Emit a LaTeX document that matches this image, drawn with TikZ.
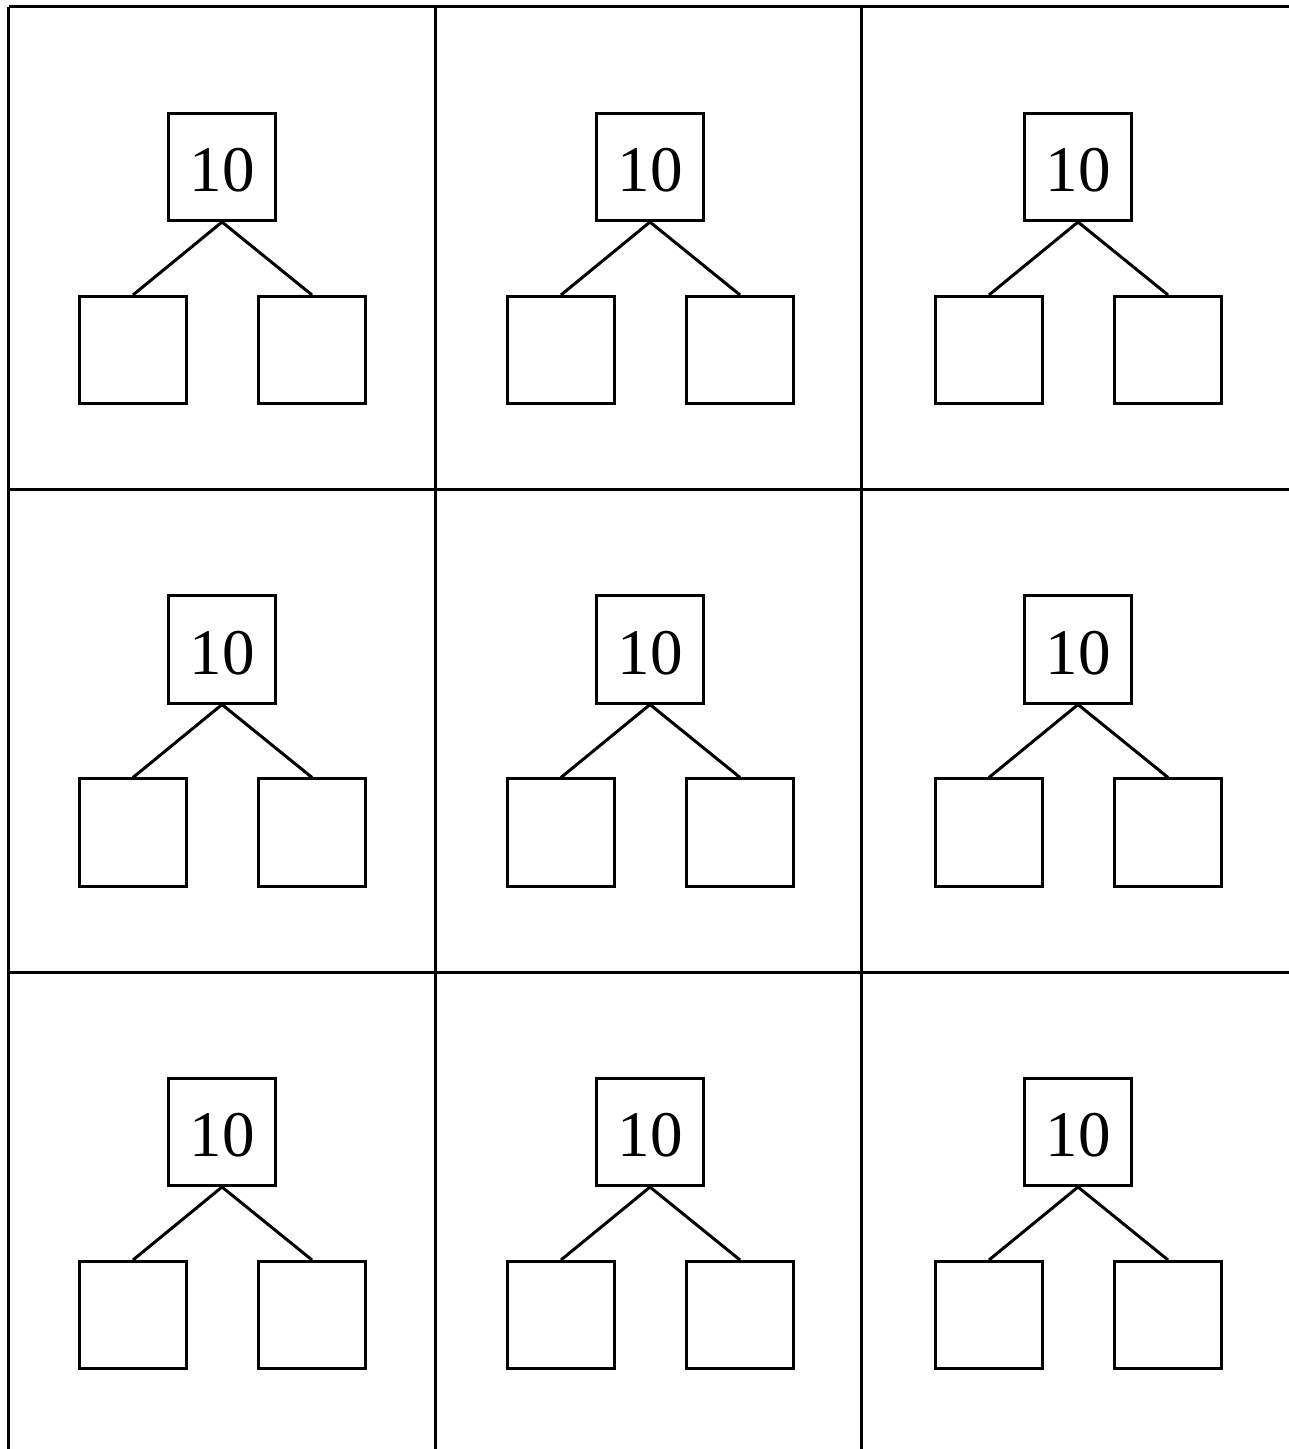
\documentclass[tikz,border=0pt]{standalone}
\usepackage{fontspec}
\setmainfont{Liberation Serif}
\usepackage{tikz}
\usetikzlibrary{positioning}
\tikzset{
  gridline/.style={line width=0.03cm, draw=black},
  numbox/.style={draw, line width=0.03cm, minimum size=1.07cm, inner sep=0pt,
    text height=14.2pt, text depth=0pt, font=\fontsize{18.5}{20}\selectfont},
  emptybox/.style={draw, line width=0.03cm, minimum size=1.07cm, inner sep=0pt},
  branch/.style={line width=0.03cm, draw=black}
}

\begin{document}
\begin{tikzpicture}[x=0.01cm, y=-0.01cm]
  \useasboundingbox (0,0) rectangle (1288,1449);
  % table lines
  \foreach \gx in {8.5,435,861.5}
    \draw[gridline] (\gx,7) -- (\gx,1460);
  \foreach \gy in {7,489.5,972}
    \draw[gridline] (8.5,\gy) -- (1300,\gy);
  % one number bond in every cell
  \foreach \r in {0,1,2}{
    \foreach \c in {0,1,2}{
      \pgfmathsetmacro{\cx}{222+428*\c}
      \pgfmathsetmacro{\cy}{167+482.5*\r}
      \node[numbox] (top-\r-\c) at (\cx,\cy) {10};
      \node[emptybox] (left-\r-\c) at (\cx-89,\cy+183) {};
      \node[emptybox] (right-\r-\c) at (\cx+90,\cy+183) {};
      \draw[branch] (top-\r-\c.south) -- (left-\r-\c.north);
      \draw[branch] (top-\r-\c.south) -- (right-\r-\c.north);
    }
  }
\end{tikzpicture}
\end{document}
